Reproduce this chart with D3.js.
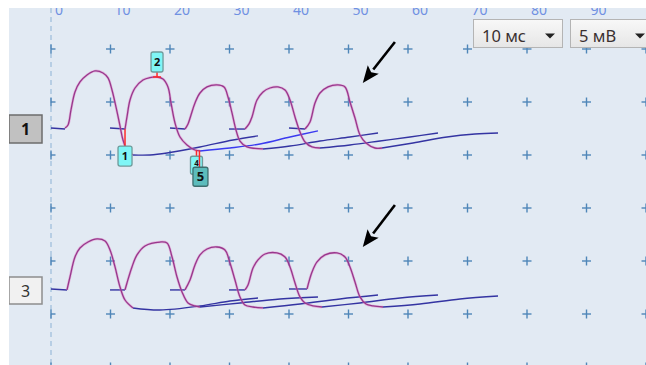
<!DOCTYPE html>
<html>
<head>
<meta charset="utf-8">
<script src="https://cdn.jsdelivr.net/npm/d3@7"></script>
<style>
  html, body { margin: 0; padding: 0; background: #fff; }
  svg { display: block; font-family: "Noto Sans", "Open Sans", sans-serif; }
</style>
</head>
<body>
<div id="chart"></div>
<script>
// time ticks (ms) and amplitude grid (mV)
const timeTicks = [0, 10, 20, 30, 40, 50, 60, 70, 80, 90, 100];
const ampTicks = [0, 5, 10, 15, 20, 25, 30];

// lead 1: [ms, mV from baseline] per beat
const ch1Base = [
  [[0, 0], [2.35, -0.1]],
  [[9.92, 0], [12.44, -0.1]],
  [[20, 0], [22.52, -0.1]],
  [[29.92, -0.1], [32.6, -0.1]],
  [[40, 0], [42.69, -0.1]]
];
const ch1Wave = [
  [[2.35, 0], [2.86, 0.28], [3.36, 1.7], [4.03, 3.4], [4.87, 4.34], [6.05, 5.0], [7.39, 5.38], [8.74, 5.19], [9.58, 4.72], [10.25, 3.58], [10.92, 1.98], [11.6, 0.19], [12.1, -1.13], [12.77, -2.08], [13.78, -2.55]],
  [[12.44, -0.1], [12.77, 1.04], [13.28, 2.64], [14.12, 3.77], [15.46, 4.53], [16.64, 4.76], [17.82, 4.81], [18.82, 4.62], [19.66, 3.87], [20.17, 2.36], [20.84, 0.47], [21.68, -0.85], [22.86, -1.6], [24.2, -2.08], [25.04, -2.17]],
  [[22.52, -0.1], [23.03, 0.38], [23.53, 1.23], [24.2, 2.36], [25.04, 3.3], [26.22, 3.87], [27.9, 4.06], [29.08, 3.87], [29.75, 2.92], [30.42, 1.42], [31.09, -0.19], [31.76, -1.23], [32.94, -1.79], [34.29, -1.93], [35.63, -1.98]],
  [[32.6, -0.1], [33.28, 0.38], [33.78, 1.04], [34.62, 2.64], [35.63, 3.4], [36.8, 3.77], [38.15, 3.87], [39.33, 3.58], [40.17, 2.64], [41.01, 1.04], [41.85, -0.38], [42.69, -1.32], [43.87, -1.79], [45.21, -1.89]],
  [[42.69, -0.1], [43.53, 0.57], [44.37, 2.36], [45.21, 3.3], [46.55, 3.87], [48.24, 4.06], [49.41, 3.87], [50.25, 2.45], [51.09, 0.94], [51.93, -0.66], [52.94, -1.42], [54.45, -1.89], [55.63, -1.89]]
];
const ch1Tail = [
  [[13.78, -2.55], [16.64, -2.55], [19.5, -2.36], [25.04, -1.79], [30.59, -1.13], [34.79, -0.75]],
  [[25.04, -2.17], [30.08, -1.89], [35.13, -1.51], [40.17, -0.85], [44.87, -0.28]],
  [[35.63, -1.98], [40.17, -1.7], [45.21, -1.23], [50.25, -0.85], [54.96, -0.47]],
  [[45.21, -1.89], [50.25, -1.6], [55.29, -1.23], [60.34, -0.85], [65.04, -0.47]],
  [[55.63, -1.89], [60.84, -1.42], [66.55, -0.85], [71.26, -0.57], [75.13, -0.47]]
];

// lead 3
const ch3Base = [
  [[0, 0], [2.69, -0.09]],
  [[9.92, -0.09], [12.44, -0.09]],
  [[20, -0.09], [22.52, -0.09]],
  [[29.92, -0.09], [32.6, -0.09]],
  [[40, 0], [43.03, 0]]
];
const ch3Wave = [
  [[2.69, -0.09], [3.19, 1.13], [4.03, 3.02], [4.87, 3.87], [6.22, 4.43], [7.73, 4.72], [9.08, 4.53], [9.92, 3.68], [10.76, 2.08], [11.6, 0.19], [12.44, -1.04], [13.78, -1.79]],
  [[12.44, -0.09], [12.77, 0.57], [13.61, 2.08], [14.45, 3.21], [15.8, 4.06], [18.32, 4.43], [19.5, 4.34], [20.34, 3.02], [21.18, 1.13], [22.02, -0.28], [23.03, -1.32], [24.2, -1.6], [25.04, -1.7]],
  [[22.52, -0.09], [23.36, 0.85], [24.2, 2.26], [25.04, 3.21], [26.22, 3.77], [27.9, 3.96], [29.24, 3.68], [30.08, 2.45], [30.92, 0.85], [31.76, -0.75], [32.6, -1.51], [33.95, -1.7], [35.63, -1.79]],
  [[32.6, -0.09], [33.11, 0.38], [33.95, 1.98], [34.79, 2.74], [35.97, 3.3], [37.98, 3.4], [39.33, 3.02], [40.17, 2.08], [41.01, 0.57], [41.85, -0.75], [42.69, -1.32], [44.03, -1.6], [45.55, -1.7]],
  [[43.03, 0], [43.87, 1.6], [44.71, 2.55], [46.05, 3.21], [48.07, 3.4], [49.41, 3.02], [50.25, 2.08], [51.09, 0.66], [51.93, -0.75], [52.94, -1.42], [54.12, -1.6], [55.8, -1.7]]
];
const ch3Tail = [
  [[13.78, -1.79], [18.32, -1.98], [25.04, -1.6], [30.08, -1.13], [34.79, -0.85]],
  [[25.04, -1.7], [31.76, -1.32], [38.49, -0.94], [44.87, -0.75]],
  [[35.63, -1.79], [41.85, -1.42], [48.57, -0.94], [54.96, -0.57]],
  [[45.55, -1.7], [51.93, -1.32], [58.66, -0.85], [65.04, -0.57]],
  [[55.8, -1.7], [62.02, -1.42], [68.74, -0.94], [75.13, -0.66]]
];

// markers on lead 1
const markerLabels = ['1', '2', '4', '5'];
const markerT = [12.44, 17.82, 24.45, 24.95];
const markerV = [-0.1, 4.81, -2.1, -2.1];

const leadNames = ['1', '3'];
const leadLevel = [22.55, 7.36]; // baseline of each lead on the mV grid
const sweepLabel = '10 мс';
const gainLabel = '5 мВ';

const W = 646, H = 365;
const panel = { left: 9, top: 8 };

const x = d3.scaleLinear().domain([0, 100]).range([51, 646]);
const y = d3.scaleLinear().domain([0, 30]).range([367, 49]);

const svg = d3.select('#chart').append('svg')
  .attr('width', W).attr('height', H);

svg.append('defs').append('clipPath').attr('id', 'panelClip')
  .append('rect').attr('x', panel.left).attr('y', panel.top)
  .attr('width', W - panel.left).attr('height', H - panel.top);

const g = svg.append('g').attr('clip-path', 'url(#panelClip)');

g.append('rect')
  .attr('x', panel.left).attr('y', panel.top)
  .attr('width', W - panel.left).attr('height', H - panel.top)
  .attr('fill', '#e2eaf3');

// zero line
g.append('line')
  .attr('x1', x(0)).attr('x2', x(0))
  .attr('y1', panel.top).attr('y2', H)
  .attr('stroke', '#a9c5df').attr('stroke-width', 1.5)
  .attr('stroke-dasharray', '5,4');

// time labels
g.selectAll('.tlabel')
  .data(timeTicks.slice(0, 10))
  .enter().append('text')
  .attr('x', d => x(d) + 4)
  .attr('y', 14.5)
  .attr('font-size', 14)
  .attr('fill', '#6f90e2')
  .text(d => d);

// grid crosses
const crosses = [];
timeTicks.forEach(t => ampTicks.forEach(a => crosses.push([t, a])));
const cross = g.append('g').attr('stroke', '#4f86b8').attr('stroke-width', 1.4);
crosses.forEach(([t, a]) => {
  const cx = x(t), cy = y(a);
  cross.append('line').attr('x1', t === 0 ? cx : cx - 4.5).attr('x2', cx + 4.5)
    .attr('y1', cy).attr('y2', cy);
  cross.append('line').attr('x1', cx).attr('x2', cx)
    .attr('y1', cy - 4.5).attr('y2', cy + 4.5);
});

const line = d3.line().curve(d3.curveCatmullRom.alpha(0.5));

function drawLead(base, wave, tail, level, brightTail) {
  const px = pts => pts.map(([t, v]) => [x(t), y(level + v)]);
  const lg = g.append('g').attr('fill', 'none');
  tail.forEach((pts, i) => {
    lg.append('path').attr('d', line(px(pts)))
      .attr('stroke', i === brightTail ? '#3a3af0' : '#3434a2')
      .attr('stroke-width', 1.4);
  });
  base.forEach(pts => {
    lg.append('path').attr('d', line(px(pts)))
      .attr('stroke', '#3434a2').attr('stroke-width', 1.4);
  });
  wave.forEach(pts => {
    lg.append('path').attr('d', line(px(pts)))
      .attr('stroke', '#e070c0').attr('stroke-width', 2.6).attr('opacity', 0.45);
    lg.append('path').attr('d', line(px(pts)))
      .attr('stroke', '#97388c').attr('stroke-width', 1.3);
  });
}

drawLead(ch1Base, ch1Wave, ch1Tail, leadLevel[0], 1);
drawLead(ch3Base, ch3Wave, ch3Tail, leadLevel[1], -1);

// markers
const mk = g.append('g');
markerLabels.forEach((lab, i) => {
  const mx = x(markerT[i]), my = y(leadLevel[0] + markerV[i]);
  let bx, by, bw, bh, fill = '#7ff6f6', stroke = '#6f9a9a', fs = 11, ty;
  if (lab === '1') { bw = 14; bh = 20; bx = mx - 7; by = my + 17; }
  if (lab === '2') { bw = 12; bh = 20; bx = mx - 6; by = my - 25; }
  if (lab === '4') { bw = 12; bh = 18; bx = mx - 6; by = my + 6; fs = 8; ty = by + 9.5; }
  if (lab === '5') { bw = 15; bh = 19; bx = mx - 6.5; by = my + 17; fill = '#5cbcbc'; stroke = '#3e6e6e'; fs = 13; }
  const y2 = lab === '2' ? by + bh : by;
  mk.append('line').attr('x1', mx).attr('x2', mx)
    .attr('y1', my).attr('y2', y2)
    .attr('stroke', '#ff2a2a').attr('stroke-width', 1.5);
  if (lab === '2') {
    mk.append('line').attr('x1', mx - 4).attr('x2', mx + 4)
      .attr('y1', my).attr('y2', my)
      .attr('stroke', '#ff2a2a').attr('stroke-width', 1.5);
  }
  mk.append('rect').attr('x', bx).attr('y', by).attr('width', bw).attr('height', bh)
    .attr('rx', 2).attr('fill', fill).attr('stroke', stroke).attr('stroke-width', 1.3);
  mk.append('text').attr('x', bx + bw / 2).attr('y', ty || (by + bh / 2 + fs * 0.36))
    .attr('text-anchor', 'middle').attr('font-size', fs).attr('font-weight', 'bold')
    .attr('fill', '#111').text(lab);
});

// arrows (ms, mV)
const arrowFrom = [[57.8, 30.66], [57.8, 15.28]];
const arrowTo = [[52.4, 26.8], [52.4, 11.32]];
arrowFrom.forEach((f, i) => {
  const x1 = x(f[0]), y1 = y(f[1]), x2 = x(arrowTo[i][0]), y2 = y(arrowTo[i][1]);
  const ang = Math.atan2(y2 - y1, x2 - x1);
  const len = 17, half = 7;
  const bxp = x2 - len * Math.cos(ang), byp = y2 - len * Math.sin(ang);
  g.append('line').attr('x1', x1).attr('y1', y1).attr('x2', bxp).attr('y2', byp)
    .attr('stroke', '#000').attr('stroke-width', 2.6);
  const nx = -Math.sin(ang), ny = Math.cos(ang);
  g.append('path')
    .attr('d', `M${x2},${y2}L${bxp + nx * half},${byp + ny * half}L${bxp + len * 0.2 * Math.cos(ang)},${byp + len * 0.2 * Math.sin(ang)}L${bxp - nx * half},${byp - ny * half}Z`)
    .attr('fill', '#000');
});

// lead labels
const leadBox = [[115, 28], [277, 27]];
leadNames.forEach((n, i) => {
  const sel = i === 0;
  g.append('rect').attr('x', panel.left).attr('y', leadBox[i][0])
    .attr('width', 33).attr('height', leadBox[i][1])
    .attr('fill', sel ? '#c1c1c1' : '#f1f1f1')
    .attr('stroke', sel ? '#6c6c6c' : '#8d8d8d').attr('stroke-width', 1.5);
  g.append('text').attr('x', panel.left + 16.5).attr('y', leadBox[i][0] + leadBox[i][1] / 2 + 6)
    .attr('text-anchor', 'middle').attr('font-size', 16)
    .attr('font-weight', sel ? 'bold' : 'normal')
    .attr('fill', sel ? '#111' : '#333').text(n);
});

// dropdowns
const grad = svg.select('defs').append('linearGradient').attr('id', 'dd')
  .attr('x1', 0).attr('x2', 0).attr('y1', 0).attr('y2', 1);
grad.append('stop').attr('offset', 0).attr('stop-color', '#f8f8f8');
grad.append('stop').attr('offset', 1).attr('stop-color', '#e6e6e6');
const dropdowns = [[473, 89, sweepLabel, 77], [570, 82, gainLabel, 70]];
dropdowns.forEach(([dx, dw, lab, tOff]) => {
  g.append('rect').attr('x', dx + 0.5).attr('y', 19.5).attr('width', dw).attr('height', 28)
    .attr('fill', 'url(#dd)').attr('stroke', '#b4b4b4');
  g.append('text').attr('x', dx + 9).attr('y', 41.5).attr('font-size', 16.5)
    .attr('fill', '#3a3030').text(lab);
  const tx = dx + tOff;
  g.append('path').attr('d', `M${tx - 5},${33.5}L${tx + 5},${33.5}L${tx},${38.5}Z`).attr('fill', '#222');
});
</script>
</body>
</html>
